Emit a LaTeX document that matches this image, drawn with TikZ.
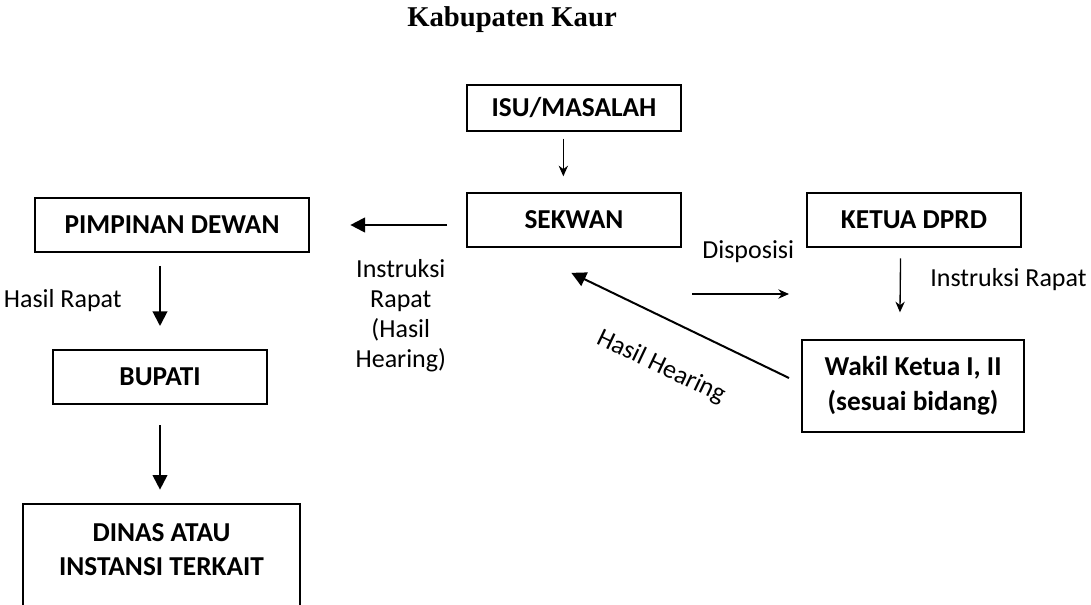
\documentclass[tikz,border=0pt]{standalone}
\usepackage{fontspec}
\setmainfont{Carlito}
\newfontfamily\judulfont{Liberation Serif}
\usetikzlibrary{arrows.meta}
\tikzset{
kotak/.style={draw,line width=1.5pt,font=\bfseries\fontsize{20.5}{26}\selectfont,minimum width=160pt,minimum height=41pt,inner sep=2pt,align=center},
teks/.style={font=\fontsize{19.5}{22.5}\selectfont,inner sep=0pt,align=center},
panah/.style={-{Triangle[length=11pt,width=11pt]},line width=1.5pt},
panah kecil/.style={-{Stealth[length=8pt,width=7pt]},line width=1pt}}

\begin{document}
\begin{tikzpicture}[x=0.75pt,y=-0.75pt]
\useasboundingbox (0,0) rectangle (1091,605);
\clip (0,0) rectangle (1091,605);

\node[font=\judulfont\bfseries\fontsize{21.5}{24}\selectfont] (judul) at (512,20) {Kabupaten Kaur};

\node[kotak,minimum height=34.5pt] (isu) at (574,108) {ISU/MASALAH};
\node[kotak] (sekwan) [below of=isu,node distance=84pt] {SEKWAN};
\node[kotak] (ketua) [right of=sekwan,node distance=255pt] {KETUA DPRD};
\node[kotak,minimum width=166.5pt,minimum height=69pt] (wakil) at (913,386) {Wakil Ketua I, II\\(sesuai bidang)};
\node[kotak,minimum width=206pt] (pimpinan) at (172,225) {PIMPINAN DEWAN};
\node[kotak] (bupati) at (160,377) {BUPATI};
\node[kotak,minimum width=208pt,minimum height=90pt,anchor=north] (dinas) at (161.5,503) {};
\node[kotak,draw=none] (dinasteks) at (161.5,549.5) {DINAS ATAU\\INSTANSI TERKAIT};

\coordinate (disp1) at (692,294);
\coordinate (disp2) at (789,294);

\draw[panah kecil,shorten <=5pt,shorten >=11.5pt] ([xshift=-8pt]isu.south) -- ([xshift=-8pt]sekwan.north);
\draw[panah kecil,shorten <=7.5pt,shorten >=20pt] ([xshift=-10pt]ketua.south) -- ([xshift=-10pt]wakil.north)
  node[teks,pos=0.35,right=22pt] (instruksi rapat) {Instruksi Rapat};
\draw[panah kecil] (disp1) -- (disp2) node[teks,pos=0.58,above=23pt] (disposisi) {Disposisi};
\draw[panah,shorten <=14.5pt,shorten >=30pt] (sekwan.west |- pimpinan.east) -- (pimpinan.east)
  node[teks,pos=0.42,below=25pt] (instruksi) {Instruksi\\Rapat\\(Hasil\\Hearing)};
\draw[panah,shorten <=9.4pt,shorten >=17pt] (pimpinan.south -| bupati.north) -- (bupati.north)
  node[teks,midway,left=28pt] (hasil rapat) {Hasil Rapat};
\draw[panah,shorten <=15pt,shorten >=10pt] (bupati.south) -- (bupati.south |- dinas.north);
\draw[panah] ([xshift=-9pt,yshift=6pt]wakil.west) -- ([xshift=-2pt,yshift=-18.4pt]sekwan.south);
\node[teks,rotate=-25.5] (hearing) at (661,367) {Hasil Hearing};

\end{tikzpicture}
\end{document}
